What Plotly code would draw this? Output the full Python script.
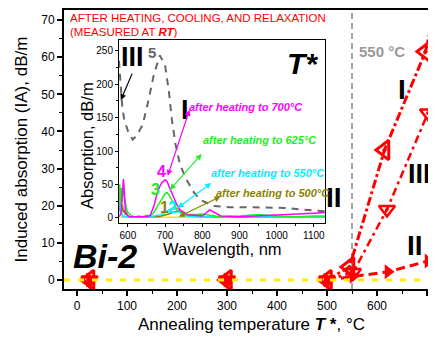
import plotly.graph_objects as go

FONT = "Liberation Sans, Arial, sans-serif"
RED = "#ff0000"

# ---------------- main chart data ----------------
temp_I = [25, 300, 500, 545, 615, 697, 745]
ia_I = [0, 0, 0, 3.5, 35, 61.5, 90]
temp_III = [25, 300, 500, 552, 620, 702]
ia_III = [0, 0, 0, 2, 19, 45]
temp_II = [25, 300, 500, 552, 622, 702]
ia_II = [0, 0, 0, 1, 2.2, 5.1]
x_ticks = [0, 100, 200, 300, 400, 500, 600, 700]
y_ticks = [0, 10, 20, 30, 40, 50, 60, 70]
threshold_T = 550

# ---------------- inset data ----------------
wl = [576, 578, 580, 582, 585, 588, 590, 593, 596, 600, 605, 610, 620, 630, 640, 650, 660,
      670, 680, 690, 700, 705, 710, 720, 730, 740, 750, 760, 780, 800, 820, 850, 900, 950,
      1000, 1050, 1100, 1130]
abs_700 = [2, 3, 5, 8, 30, 58, 40, 12, 5, 3, 2, 2, 1, 2, 1, 2, 4,
           18, 40, 52, 57, 55, 48, 35, 22, 12, 8, 5, 4, 3, 12, 3, 2, 3,
           4, 5, 7, 8]
abs_625 = [30, 50, 20, 45, 25, 52, 35, 20, 15, 8, 5, 3, 2, 3, 2, 4, 3,
           8, 18, 28, 36, 38, 35, 25, 15, 10, 7, 5, 5, 6, 4, 2, 3, 5,
           3, 2, 3, 3]
abs_550 = [42, 30, 5, 10, 3, 2, 3, 2, 1, 2, 1, 2, 1, 2, 1, 3, 2,
           3, 4, 5, 8, 10, 12, 14, 13, 8, 5, 3, 2, 2, 2, 2, 2, 2,
           2, 2, 2, 2]
abs_500 = [10, 35, 15, 8, 20, 8, 12, 5, 8, 3, 2, 2, 1, 2, 1, 2, 1,
           2, 2, 3, 4, 5, 6, 8, 10, 9, 6, 4, 3, 2, 2, 2, 1, 2,
           2, 1, 2, 2]
abs_base = [1] * len(wl)
wl5 = [576, 580, 585, 590, 600, 613, 625, 640, 655, 670, 686, 700, 710, 718, 728, 740, 755,
       775, 795, 830, 870, 920, 970, 1020, 1060, 1100, 1130]
abs5 = [235, 200, 165, 148, 130, 117, 124, 140, 175, 215, 243, 228, 190, 148, 110, 80, 60,
        40, 27, 18, 16, 16, 15, 15, 13, 11, 10]
inset_x_ticks = [600, 700, 800, 900, 1000, 1100]
inset_y_ticks = [0, 50, 100, 150, 200, 250]

fig = go.Figure()

# inset curves
fig.add_trace(go.Scatter(x=wl, y=abs_base, mode="lines", line=dict(color="#f2e600", width=1.5),
                         xaxis="x2", yaxis="y2", showlegend=False))
fig.add_trace(go.Scatter(x=wl, y=abs_500, mode="lines", line=dict(color="#8a8400", width=1.5),
                         xaxis="x2", yaxis="y2", showlegend=False))
fig.add_trace(go.Scatter(x=wl, y=abs_550, mode="lines", line=dict(color="#00f0ff", width=1.5),
                         xaxis="x2", yaxis="y2", showlegend=False))
fig.add_trace(go.Scatter(x=wl, y=abs_625, mode="lines", line=dict(color="#22ee22", width=1.5),
                         xaxis="x2", yaxis="y2", showlegend=False))
fig.add_trace(go.Scatter(x=wl, y=abs_700, mode="lines", line=dict(color="#ff00ff", width=1.5),
                         xaxis="x2", yaxis="y2", showlegend=False))
fig.add_trace(go.Scatter(x=wl5, y=abs5, mode="lines", line=dict(color="#666666", width=2, dash="7px,6px"),
                         xaxis="x2", yaxis="y2", showlegend=False))

# main series lines (from 500 on)
fig.add_trace(go.Scatter(x=temp_II[2:], y=ia_II[2:], mode="lines",
                         line=dict(color=RED, width=3, dash="9px,5px"), showlegend=False))
fig.add_trace(go.Scatter(x=temp_III[2:], y=ia_III[2:], mode="lines",
                         line=dict(color=RED, width=2.5, dash="8px,4px,3px,4px"), showlegend=False))
fig.add_trace(go.Scatter(x=temp_I[2:], y=ia_I[2:], mode="lines",
                         line=dict(color=RED, width=3, dash="dashdot"), showlegend=False))
# markers
fig.add_trace(go.Scatter(x=temp_II, y=ia_II, mode="markers",
                         marker=dict(symbol="triangle-right", size=13, color=RED), showlegend=False))
fig.add_trace(go.Scatter(x=temp_III, y=ia_III, mode="markers",
                         marker=dict(symbol="triangle-down-open-dot", size=14, color=RED,
                                     line=dict(width=2.5, color=RED)), showlegend=False))
fig.add_trace(go.Scatter(x=temp_I, y=ia_I, mode="markers",
                         marker=dict(symbol="triangle-left-open-dot", size=17, color=RED,
                                     line=dict(width=3, color=RED)), showlegend=False))

ann = []
def txt(x, y, text, size, color="black", xref="x", yref="y", **kw):
    d = dict(x=x, y=y, xref=xref, yref=yref, text=text, showarrow=False,
             xanchor="center", yanchor="middle",
             font=dict(family=FONT, size=size, color=color))
    d.update(kw)
    ann.append(d)

# main labels
txt(650, 51.4, "<b>I</b>", 28)
txt(684, 28.5, "<b>III</b>", 27)
txt(676, 9.2, "<b>II</b>", 28)
txt(514, 22.3, "<b>II</b>", 28)
txt(610, 61.4, "<b>550 °C</b>", 15, color="#999999")
txt(56, 6.6, "<b><i>Bi-2</i></b>", 34)
txt(-19, 70.5, "AFTER HEATING, COOLING, AND RELAXATION", 11.5, color=RED, xanchor="left")
txt(-19, 66.8, "(MEASURED AT <b><i>RT</i></b>)", 11.5, color=RED, xanchor="left")

# axis titles
txt(0.505, -0.129, "Annealing temperature <b><i>T</i> *</b>, °C", 17, xref="paper", yref="paper")
txt(-0.113, 0.50, "Induced absorption (IA), dB/m", 17, xref="paper", yref="paper", textangle=-90)
txt(0.425, 0.143, "Wavelength, nm", 16.5, xref="paper", yref="paper")
txt(0.062, 0.513, "Absorption, dB/m", 16.5, xref="paper", yref="paper", textangle=-90)

# inset labels
txt(1070, 231, "<b><i>T*</i></b>", 30, xref="x2", yref="y2")
txt(613, 240, "<b>III</b>", 27, xref="x2", yref="y2")
txt(665, 248, "<b>5</b>", 15, color="#666666", xref="x2", yref="y2")
txt(753, 161, "<b>I</b>", 27, xref="x2", yref="y2")
txt(691, 69, "<b>4</b>", 16, color="#ff00ff", xref="x2", yref="y2")
txt(675, 42, "<b>3</b>", 16, color="#22ee22", xref="x2", yref="y2")
txt(699, 15, "<b>1</b>", 16, color="#8a8400", xref="x2", yref="y2")
txt(721, 15, "<b>2</b>", 16, color="#00f0ff", xref="x2", yref="y2")
txt(917, 166, "<b><i>after heating to 700°C</i></b>", 11, color="#ff00ff", xref="x2", yref="y2")
txt(955, 116, "<b><i>after heating to 625°C</i></b>", 11, color="#22ee22", xref="x2", yref="y2")
txt(976, 67, "<b><i>after heating to 550°C</i></b>", 11, color="#00f0ff", xref="x2", yref="y2")
txt(990, 37, "<b><i>after heating to 500°C</i></b>", 11, color="#8a8400", xref="x2", yref="y2")

def arrow(x, y, ax, ay, color, side="end+start"):
    ann.append(dict(x=x, y=y, ax=ax, ay=ay, xref="x2", yref="y2", axref="x2", ayref="y2",
                    text="", showarrow=True, arrowhead=2, arrowsize=1, arrowwidth=1.2,
                    arrowcolor=color, arrowside=side, startarrowhead=2))

arrow(707, 63, 767, 164, "#ff00ff")
arrow(713, 42, 802, 98, "#22ee22")
arrow(734, 15, 828, 54, "#00f0ff")
arrow(737, 2, 853, 33, "#8a8400")
arrow(581, 176, 613, 218, "black", side="end")

shapes = [
    dict(type="line", xref="x", yref="paper", x0=threshold_T, x1=threshold_T, y0=0, y1=1,
         line=dict(color="#888888", width=1.5, dash="6px,4px"), layer="below"),
    dict(type="line", xref="paper", yref="y", x0=0, x1=1, y0=0, y1=0,
         line=dict(color="#ffee00", width=3, dash="6px,8px"), layer="above"),
]

axis_common = dict(showgrid=False, zeroline=False, showline=True, linecolor="black",
                   ticks="outside", tickcolor="black", tickfont=dict(family=FONT, size=12, color="black"))

# page has an 8px body margin: figure is 8px smaller, margins shifted accordingly
fig.update_layout(
    width=428, height=335,
    margin=dict(l=56, r=0, t=2, b=54),
    paper_bgcolor="white", plot_bgcolor="white",
    font=dict(family=FONT),
    showlegend=False,
    xaxis=dict(**axis_common, range=[-26, 718], tickvals=x_ticks, linewidth=1.8, mirror=True,
               ticklen=5, tickwidth=1.5,
               minor=dict(ticks="outside", dtick=50, ticklen=3, tickwidth=1.2, tickcolor="black")),
    yaxis=dict(**axis_common, range=[-2.42, 72.7], tickvals=y_ticks, linewidth=1.8,
               ticklen=5, tickwidth=1.5,
               minor=dict(ticks="outside", dtick=5, ticklen=3, tickwidth=1.2, tickcolor="black")),
    xaxis2=dict(showgrid=False, zeroline=False, showline=True, linecolor="black", linewidth=1,
                mirror=True, ticks="outside", ticklen=3, tickcolor="black",
                tickfont=dict(family=FONT, size=10, color="black"),
                range=[576, 1130], tickvals=inset_x_ticks, domain=[0.1478, 0.7016], anchor="y2",
                minor=dict(ticks="outside", dtick=50, ticklen=2, tickcolor="black")),
    yaxis2=dict(showgrid=False, zeroline=False, showline=True, linecolor="black", linewidth=1,
                mirror=True, ticks="outside", ticklen=3, tickcolor="black",
                tickfont=dict(family=FONT, size=10, color="black"),
                range=[-7.5, 266], tickvals=inset_y_ticks, domain=[0.2366, 0.8925], anchor="x2",
                minor=dict(ticks="outside", dtick=25, ticklen=2, tickcolor="black")),
    annotations=ann,
    shapes=shapes,
)

fig.write_html("out.html")
